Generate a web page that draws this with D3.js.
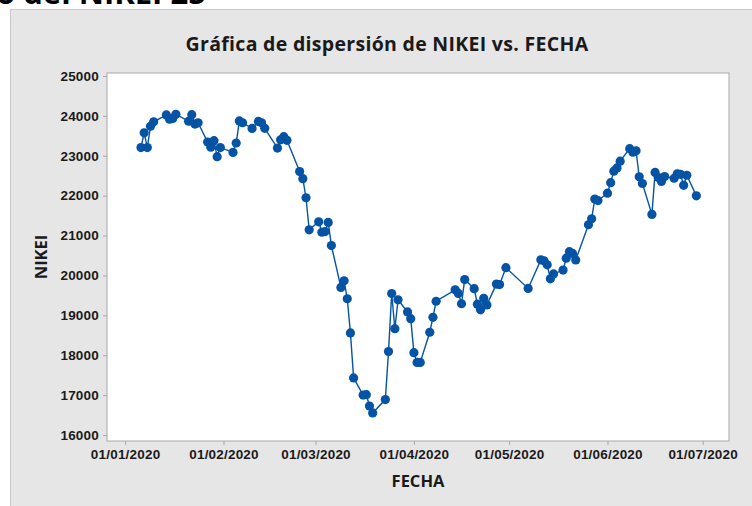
<!DOCTYPE html>
<html>
<head>
<meta charset="utf-8">
<script src="https://cdn.jsdelivr.net/npm/d3@7"></script>
<style>
  body { margin: 0; background: #fff; }
  svg { display: block; font-family: "Open Sans", "Noto Sans", sans-serif; }
  .tick text { font-weight: bold; fill: #1a1a1a; }
</style>
</head>
<body>
<div class="chart"></div>
<script>
// NIKEI closing values
const fechas = [
  "2020-01-06","2020-01-07","2020-01-08","2020-01-09","2020-01-10","2020-01-14","2020-01-15","2020-01-16","2020-01-17",
  "2020-01-21","2020-01-22","2020-01-23","2020-01-24","2020-01-27","2020-01-28","2020-01-29","2020-01-30","2020-01-31",
  "2020-02-04","2020-02-05","2020-02-06","2020-02-07","2020-02-10","2020-02-12","2020-02-13","2020-02-14",
  "2020-02-18","2020-02-19","2020-02-20","2020-02-21","2020-02-25","2020-02-26","2020-02-27","2020-02-28",
  "2020-03-02","2020-03-03","2020-03-04","2020-03-05","2020-03-06","2020-03-09","2020-03-10","2020-03-11","2020-03-12","2020-03-13",
  "2020-03-16","2020-03-17","2020-03-18","2020-03-19","2020-03-23","2020-03-24","2020-03-25","2020-03-26","2020-03-27","2020-03-30","2020-03-31",
  "2020-04-01","2020-04-02","2020-04-03","2020-04-06","2020-04-07","2020-04-08","2020-04-14","2020-04-15","2020-04-16","2020-04-17",
  "2020-04-20","2020-04-21","2020-04-22","2020-04-23","2020-04-24","2020-04-27","2020-04-28","2020-04-30",
  "2020-05-07","2020-05-11","2020-05-12","2020-05-13","2020-05-14","2020-05-15","2020-05-18","2020-05-19","2020-05-20","2020-05-21","2020-05-22",
  "2020-05-26","2020-05-27","2020-05-28","2020-05-29",
  "2020-06-01","2020-06-02","2020-06-03","2020-06-04","2020-06-05","2020-06-08","2020-06-09","2020-06-10","2020-06-11","2020-06-12",
  "2020-06-15","2020-06-16","2020-06-17","2020-06-18","2020-06-19","2020-06-22","2020-06-23","2020-06-24","2020-06-25","2020-06-26","2020-06-29"
]
const nikei = [
  23205, 23576, 23205, 23740, 23851, 24025, 23917, 23933, 24041,
  23865, 24031, 23795, 23827, 23344, 23216, 23379, 22978, 23205,
  23085, 23320, 23874, 23828, 23686, 23861, 23828, 23688,
  23194, 23401, 23479, 23387, 22605, 22426, 21948, 21143,
  21344, 21083, 21100, 21329, 20750, 19699, 19867, 19416, 18560, 17431,
  17002, 17012, 16727, 16553, 16888, 18092, 19547, 18665, 19389, 19085, 18917,
  18065, 17819, 17820, 18576, 18950, 19353, 19639, 19550, 19290, 19897,
  19669, 19281, 19138, 19429, 19262, 19783, 19771, 20194,
  19675, 20391, 20366, 20267, 19915, 20037, 20134, 20433, 20595, 20552, 20388,
  21271, 21419, 21916, 21878,
  22062, 22326, 22614, 22696, 22864, 23178, 23091, 23125, 22473, 22305,
  21531, 22582, 22456, 22355, 22479, 22437, 22549, 22534, 22260, 22512, 21995
]
const yTicks = [16000, 17000, 18000, 19000, 20000, 21000, 22000, 23000, 24000, 25000]
const xTicks = ["2020-01-01","2020-02-01","2020-03-01","2020-04-01","2020-05-01","2020-06-01","2020-07-01"]

const parse = d3.timeParse("%Y-%m-%d")
const data = fechas.map((f, i) => ({ fecha: parse(f), valor: nikei[i] }))

const width = 752
const height = 506
const plot = { left: 107, top: 73, right: 729, bottom: 441 }
const azul = "#0453a5"

const svg = d3.select(".chart")
    .append("svg")
    .attr("width", width)
    .attr("height", height)

// heading of the page above, cut by the top edge as in the original screenshot
svg.append("text")
    .attr("x", -4)
    .attr("y", 4)
    .attr("font-size", 31)
    .attr("font-weight", "bold")
    .attr("fill", "#000")
    .text("o del NIKEI 25")

// grey panel
svg.append("rect")
    .attr("x", 10.5)
    .attr("y", 9.5)
    .attr("width", width)
    .attr("height", height)
    .attr("fill", "#e6e6e6")
    .attr("stroke", "#c9c9c9")

svg.append("rect")
    .attr("x", plot.left)
    .attr("y", plot.top)
    .attr("width", plot.right - plot.left)
    .attr("height", plot.bottom - plot.top)
    .attr("fill", "#fff")
    .attr("stroke", "#a8a8a8")

const x = d3.scaleTime()
    .domain([new Date(2019, 11, 26, 7), new Date(2020, 6, 9, 7)])
    .range([plot.left, plot.right])

const y = d3.scaleLinear()
    .domain([15850, 25075])
    .range([plot.bottom, plot.top])

const xAxis = svg.append("g")
    .attr("transform", `translate(0,${plot.bottom})`)
    .call(d3.axisBottom(x)
        .tickValues(xTicks.map(parse))
        .tickFormat(d3.timeFormat("%d/%m/%Y"))
        .tickSize(4)
        .tickPadding(4))
xAxis.select(".domain").remove()
xAxis.selectAll("line").attr("stroke", "#a8a8a8")
xAxis.selectAll("text").attr("font-size", 13.5).attr("letter-spacing", 0.2)

const yAxis = svg.append("g")
    .attr("transform", `translate(${plot.left},0)`)
    .call(d3.axisLeft(y)
        .tickValues(yTicks)
        .tickFormat(d3.format("d"))
        .tickSize(4)
        .tickPadding(4))
yAxis.select(".domain").remove()
yAxis.selectAll("line").attr("stroke", "#a8a8a8")
yAxis.selectAll("text").attr("font-size", 13.5).attr("letter-spacing", 0.2)

const line = d3.line()
    .x(d => x(d.fecha))
    .y(d => y(d.valor))

svg.append("path")
    .datum(data)
    .attr("d", line)
    .attr("fill", "none")
    .attr("stroke", azul)
    .attr("stroke-width", 1.4)

svg.append("g")
    .selectAll("circle")
    .data(data)
    .join("circle")
    .attr("cx", d => x(d.fecha))
    .attr("cy", d => y(d.valor))
    .attr("r", 4.6)
    .attr("fill", azul)

svg.append("text")
    .attr("x", 387)
    .attr("y", 51)
    .attr("text-anchor", "middle")
    .attr("font-size", 19.5)
    .attr("font-weight", "bold")
    .attr("letter-spacing", 0.3)
    .attr("fill", "#1a1a1a")
    .text("Gráfica de dispersión de NIKEI vs. FECHA")

svg.append("text")
    .attr("x", (plot.left + plot.right) / 2)
    .attr("y", 487)
    .attr("text-anchor", "middle")
    .attr("font-size", 16.5)
    .attr("font-weight", "bold")
    .attr("fill", "#1a1a1a")
    .text("FECHA")

svg.append("text")
    .attr("transform", `translate(47,${(plot.top + plot.bottom) / 2}) rotate(-90)`)
    .attr("text-anchor", "middle")
    .attr("font-size", 16.5)
    .attr("font-weight", "bold")
    .attr("fill", "#1a1a1a")
    .text("NIKEI")
</script>
</body>
</html>
